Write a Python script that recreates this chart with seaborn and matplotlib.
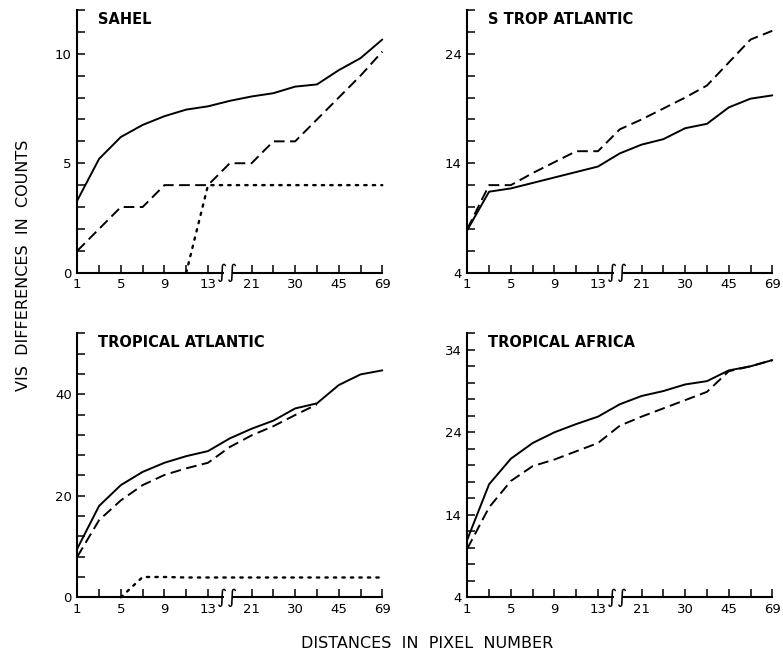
import numpy as np
import pandas as pd
import matplotlib
matplotlib.use("Agg")
import matplotlib.pyplot as plt
import seaborn as sns
from matplotlib.patches import Rectangle

# ---------------- data ----------------
positions = list(range(15))  # evenly spaced pixel-distance slots
tick_positions = [0, 1, 2, 3, 4, 5, 6, 8, 9, 10, 11, 12, 13, 14]
tick_labels = ['1', '', '5', '', '9', '', '13', '21', '', '30', '', '45', '', '69']

sahel_solid = [3.3, 5.2, 6.2, 6.75, 7.15, 7.45, 7.6, 7.85, 8.05, 8.2, 8.5, 8.6, 9.25, 9.8, 10.65]
sahel_dashed = [1.0, 2.0, 3.0, 3.0, 4.0, 4.0, 4.0, 5.0, 5.0, 6.0, 6.0, 7.0, 8.0, 9.0, 10.1]
sahel_dotted = [None, None, None, None, None, 0.0, 4.0, 4.0, 4.0, 4.0, 4.0, 4.0, 4.0, 4.0, 4.0]

strop_solid = [7.9, 11.4, 11.7, 12.2, 12.7, 13.2, 13.7, 14.9, 15.7, 16.2, 17.2, 17.6, 19.1, 19.9, 20.2]
strop_dashed = [8.0, 12.0, 12.0, 13.1, 14.1, 15.1, 15.1, 17.1, 18.0, 19.0, 20.0, 21.1, 23.2, 25.3, 26.1]

tatl_solid = [9.6, 18.0, 22.1, 24.7, 26.5, 27.8, 28.8, 31.3, 33.2, 34.8, 37.2, 38.2, 41.8, 43.9, 44.7]
tatl_dashed = [8.0, 15.2, 19.1, 22.1, 24.1, 25.4, 26.5, 29.6, 31.9, 33.7, 35.9, 38.0, None, None, None]
tatl_dotted = [None, None, 0.0, 4.0, 4.0, 3.9, 3.9, 3.9, 3.9, 3.9, 3.9, 3.9, 3.9, 3.9, 3.9]

tafr_solid = [11.0, 17.7, 20.8, 22.7, 24.0, 25.0, 25.9, 27.4, 28.4, 29.0, 29.8, 30.2, 31.5, 32.0, 32.75]
tafr_dashed = [9.9, 14.9, 18.1, 19.9, 20.7, 21.7, 22.7, 24.8, 25.9, 26.9, 27.9, 28.9, 31.4, 32.0, 32.75]

panel_titles = ['SAHEL', 'S TROP ATLANTIC', 'TROPICAL ATLANTIC', 'TROPICAL AFRICA']
panel_ylims = [(0, 12), (4, 28), (0, 52), (4, 36)]
panel_ystep = [1, 2, 4, 2]
panel_ylabels = [[0, 5, 10], [4, 14, 24], [0, 20, 40], [4, 14, 24, 34]]
panel_series = [
    {'solid': sahel_solid, 'dashed': sahel_dashed, 'dotted': sahel_dotted},
    {'solid': strop_solid, 'dashed': strop_dashed},
    {'solid': tatl_solid, 'dashed': tatl_dashed, 'dotted': tatl_dotted},
    {'solid': tafr_solid, 'dashed': tafr_dashed},
]

# ---------------- styling ----------------
sns.set_style("ticks")
plt.rcParams['font.family'] = ['DejaVu Sans']
plt.rcParams['axes.linewidth'] = 1.5
plt.rcParams['text.color'] = 'black'
plt.rcParams['xtick.color'] = 'black'
plt.rcParams['ytick.color'] = 'black'
plt.rcParams['axes.labelcolor'] = 'black'

line_styles = {'solid': '-', 'dashed': (0, (5.5, 2.8)), 'dotted': (0, (1, 2.6))}
line_widths = {'solid': 1.4, 'dashed': 1.4, 'dotted': 1.7}

fig = plt.figure(figsize=(7.83, 6.59), dpi=100)
W, H = 783.0, 659.0
ax_w = 305.0
rects = [
    (77.3, 10.0, 272.7),
    (467.3, 10.0, 272.7),
    (77.3, 333.3, 597.3),
    (467.3, 333.3, 597.3),
]

for k, (left, top, bottom) in enumerate(rects):
    ax = fig.add_axes([left / W, 1 - bottom / H, ax_w / W, (bottom - top) / H])
    for name, vals in panel_series[k].items():
        df = pd.DataFrame({'pos': positions, 'val': vals}).dropna()
        sns.lineplot(data=df, x='pos', y='val', ax=ax, color='black',
                     linestyle=line_styles[name], linewidth=line_widths[name],
                     dash_capstyle='round' if name == 'dotted' else 'butt',
                     clip_on=False)
    lo, hi = panel_ylims[k]
    ax.set_xlim(0, 14)
    ax.set_ylim(lo, hi)
    yt = list(range(lo, hi + 1, panel_ystep[k]))
    ax.set_yticks(yt)
    ax.set_yticklabels([str(v) if v in panel_ylabels[k] else '' for v in yt])
    ax.set_xticks(tick_positions)
    ax.set_xticklabels(tick_labels)
    ax.tick_params(direction='in', length=6, width=1.1, labelsize=9.5, pad=4,
                   color='black', labelcolor='black')
    ax.set_xlabel('')
    ax.set_ylabel('')
    for s in ['top', 'right']:
        ax.spines[s].set_visible(False)
    for s in ['left', 'bottom']:
        ax.spines[s].set_color('black')
    ax.text(0.068, 0.965, panel_titles[k], transform=ax.transAxes, ha='left',
            va='center', fontsize=10.5, fontweight='bold', color='black')
    # axis break between 13 and 21
    trans = ax.get_xaxis_transform()
    ax.add_patch(Rectangle((6.72, -0.02), 0.36, 0.04, transform=trans,
                           facecolor='white', edgecolor='none', zorder=5, clip_on=False))
    for xb in (6.65, 7.12):
        ax.text(xb, 0.0, '\u222b', transform=trans, ha='center', va='center',
                fontsize=14, zorder=6, clip_on=False, color='black')

fig.text(427 / W, 1 - 644 / H, 'DISTANCES  IN  PIXEL  NUMBER', ha='center', va='center',
         fontsize=11.5, color='black')
fig.text(24 / W, 1 - 265 / H, 'VIS  DIFFERENCES  IN  COUNTS', ha='center', va='center',
         rotation=90, fontsize=11.5, color='black')

fig.savefig('out.png', dpi=100)
